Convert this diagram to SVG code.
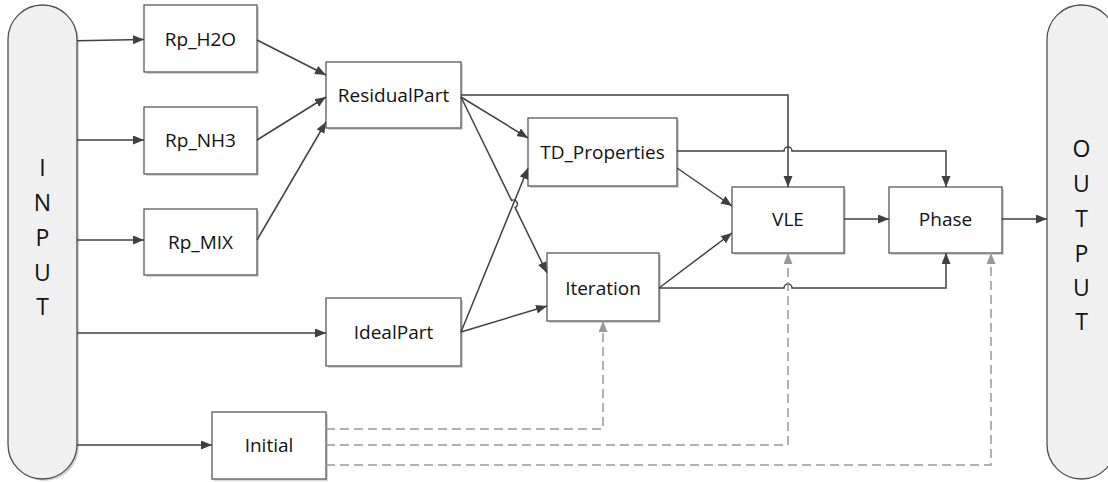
<svg xmlns="http://www.w3.org/2000/svg" width="1108" height="482" viewBox="0 0 1108 482">
<style>
.box{fill:#fff;stroke:#595959;stroke-width:1.3}
.sh{fill:#d4d4d4}
.pill{fill:#f0f0f0;stroke:#505050;stroke-width:1.3}
.lbl{font-family:"Open Sans","Liberation Sans",sans-serif;font-size:19px;fill:#111;text-anchor:middle;dominant-baseline:central}
.big{font-family:"Open Sans","Liberation Sans",sans-serif;font-size:23px;fill:#111;text-anchor:middle;dominant-baseline:central}
.c{fill:none;stroke:#404040;stroke-width:1.5}
.d{fill:none;stroke:#999;stroke-width:1.5;stroke-dasharray:9 5}
</style>
<defs>
<marker id="a" markerUnits="userSpaceOnUse" markerWidth="12" markerHeight="10" refX="11" refY="4.5" orient="auto"><path d="M0,0 L11,4.5 L0,9 z" fill="#404040"/></marker>
<marker id="g" markerUnits="userSpaceOnUse" markerWidth="12" markerHeight="10" refX="11" refY="4.5" orient="auto"><path d="M0,0 L11,4.5 L0,9 z" fill="#999"/></marker>
</defs>

<g id="INPUT">
<rect x="10" y="7" width="69" height="474" rx="34.5" ry="34.5" class="sh"/>
<rect x="8" y="5" width="69" height="474" rx="34.5" ry="34.5" class="pill"/>
<text class="big" x="42.5" y="167">I</text>
<text class="big" x="42.5" y="202">N</text>
<text class="big" x="42.5" y="237">P</text>
<text class="big" x="42.5" y="272">U</text>
<text class="big" x="42.5" y="306">T</text>
</g>

<g id="OUTPUT">
<rect x="1047" y="5" width="69" height="474" rx="34.5" ry="34.5" class="pill"/>
<text class="big" x="1081.5" y="148">O</text>
<text class="big" x="1081.5" y="183">U</text>
<text class="big" x="1081.5" y="218">T</text>
<text class="big" x="1081.5" y="253">P</text>
<text class="big" x="1081.5" y="287">U</text>
<text class="big" x="1081.5" y="321">T</text>
</g>

<g id="Rp_H2O"><rect class="sh" x="146" y="7" width="113" height="67"/><rect class="box" x="144" y="5" width="113" height="67"/><text class="lbl" x="200.5" y="39">Rp_H2O</text></g>
<g id="Rp_NH3"><rect class="sh" x="146" y="109" width="113" height="67"/><rect class="box" x="144" y="107" width="113" height="67"/><text class="lbl" x="200.5" y="140">Rp_NH3</text></g>
<g id="Rp_MIX"><rect class="sh" x="146" y="211" width="113" height="66"/><rect class="box" x="144" y="209" width="113" height="66"/><text class="lbl" x="200.5" y="242">Rp_MIX</text></g>
<g id="ResidualPart"><rect class="sh" x="328" y="64" width="135" height="66"/><rect class="box" x="326" y="62" width="135" height="66"/><text class="lbl" x="393.5" y="95">ResidualPart</text></g>
<g id="IdealPart"><rect class="sh" x="328" y="300" width="135" height="68"/><rect class="box" x="326" y="298" width="135" height="68"/><text class="lbl" x="393.5" y="332">IdealPart</text></g>
<g id="Initial"><rect class="sh" x="214" y="414" width="114" height="67"/><rect class="box" x="212" y="412" width="114" height="67"/><text class="lbl" x="269" y="445">Initial</text></g>
<g id="TD_Properties"><rect class="sh" x="530" y="120" width="149" height="68"/><rect class="box" x="528" y="118" width="149" height="68"/><text class="lbl" x="602.5" y="152">TD_Properties</text></g>
<g id="Iteration"><rect class="sh" x="549" y="255" width="112" height="68"/><rect class="box" x="547" y="253" width="112" height="68"/><text class="lbl" x="603" y="288">Iteration</text></g>
<g id="VLE"><rect class="sh" x="734" y="189" width="112" height="66"/><rect class="box" x="732" y="187" width="112" height="66"/><text class="lbl" x="788" y="219">VLE</text></g>
<g id="Phase"><rect class="sh" x="891" y="189" width="113" height="66"/><rect class="box" x="889" y="187" width="113" height="66"/><text class="lbl" x="945.5" y="219">Phase</text></g>

<g id="connectors">
<path class="c" marker-end="url(#a)" d="M77,40.7 L144,39.5"/>
<path class="c" marker-end="url(#a)" d="M77,140 L144,140"/>
<path class="c" marker-end="url(#a)" d="M77,240 L144,240"/>
<path class="c" marker-end="url(#a)" d="M77,333 L326,333"/>
<path class="c" marker-end="url(#a)" d="M77,445 L212,445"/>
<path class="c" marker-end="url(#a)" d="M257,40 L326,75"/>
<path class="c" marker-end="url(#a)" d="M257,140 L326,97"/>
<path class="c" marker-end="url(#a)" d="M257,240 L326,122"/>
<path class="c" marker-end="url(#a)" d="M461,95 L788,95 L788,187"/>
<path class="c" marker-end="url(#a)" d="M461,97 L528,138"/>
<path class="c" marker-end="url(#a)" d="M461,332 L528,168"/>
<path class="c" marker-end="url(#a)" d="M461,97 L511.5,200.4 A4,4 0 0 1 515.1,207.6 L547,273"/>
<path class="c" marker-end="url(#a)" d="M461,332 L547,306"/>
<path class="c" marker-end="url(#a)" d="M677,151 L784,151 A4,4 0 0 1 792,151 L946,151 L946,187"/>
<path class="c" marker-end="url(#a)" d="M677,168 L732,206"/>
<path class="c" marker-end="url(#a)" d="M659,288 L732,233"/>
<path class="c" marker-end="url(#a)" d="M659,288 L784,288 A4,4 0 0 1 792,288 L946,288 L946,253"/>
<path class="c" marker-end="url(#a)" d="M844,219 L889,219"/>
<path class="c" marker-end="url(#a)" d="M1002,219 L1047,219"/>
<path class="d" marker-end="url(#g)" d="M326,429 L603,429 L603,321"/>
<path class="d" marker-end="url(#g)" d="M326,445 L788,445 L788,253"/>
<path class="d" marker-end="url(#g)" d="M326,465 L991,465 L991,253"/>
</g>
</svg>
